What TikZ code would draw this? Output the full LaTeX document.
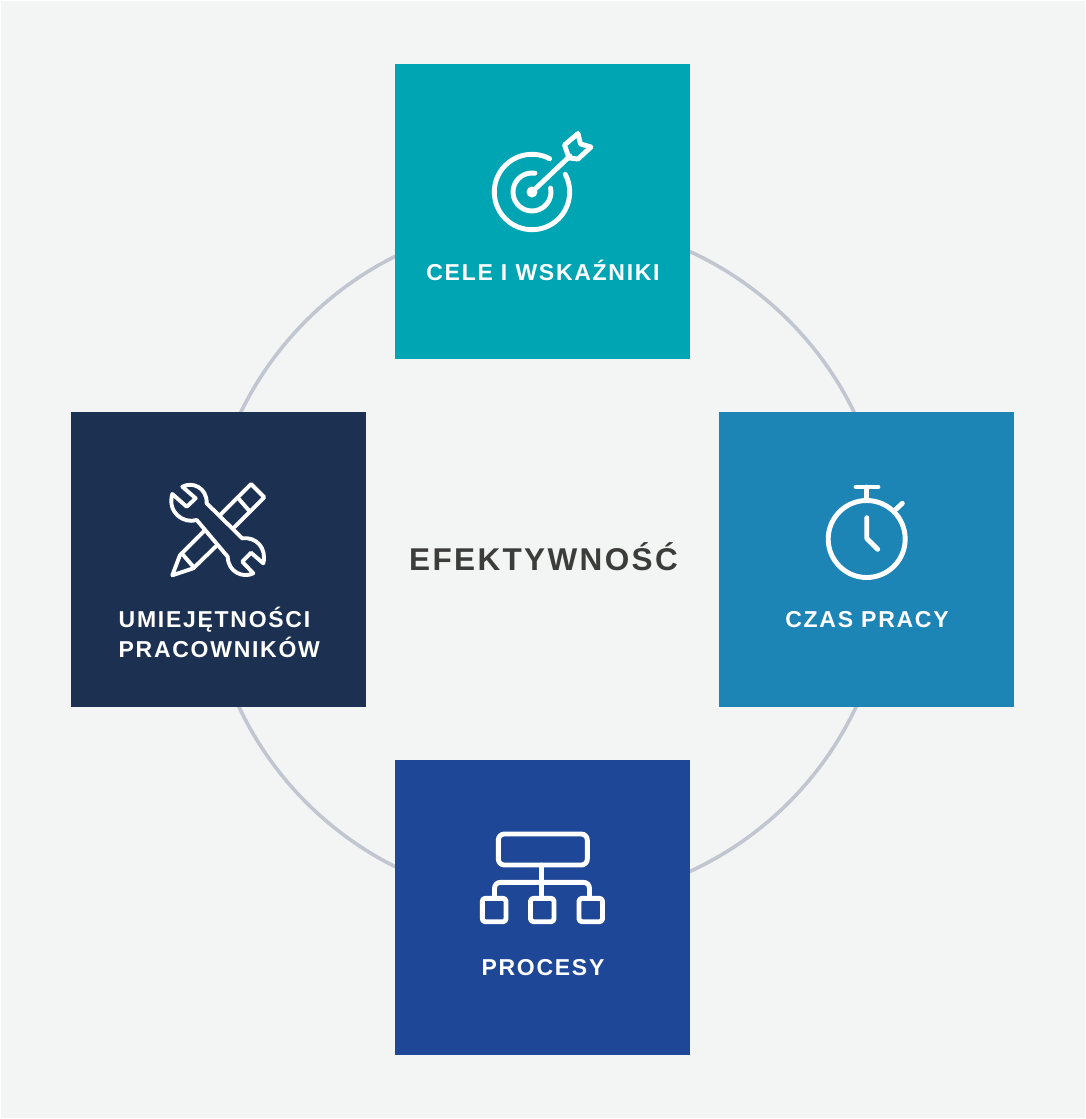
\documentclass[tikz,border=0pt]{standalone}
\usepackage{fontspec}
\setmainfont{Liberation Sans}
\newfontfamily\lblfont[LetterSpace=7.5]{Liberation Sans Bold}
\newfontfamily\ttlfont[LetterSpace=7.5]{Liberation Sans Bold}
\definecolor{bgc}{HTML}{F3F4F4}
\definecolor{ringc}{HTML}{C1C6D1}
\definecolor{tealc}{HTML}{00A5B3}
\definecolor{bluec}{HTML}{1D85B6}
\definecolor{navyc}{HTML}{1C3152}
\definecolor{royalc}{HTML}{1F4798}
\definecolor{titlec}{HTML}{3C3C3B}
\tikzset{
  tile/.style={minimum size=295pt,inner sep=0pt,outer sep=0pt,draw=none},
  lbl/.style={text=white,font=\fontsize{23}{30}\selectfont\lblfont,align=center,inner sep=0pt},
  icon/.style={draw=white,line width=4.9pt,line cap=round,line join=round},
  thinicon/.style={icon,line width=3.9pt}
}
\begin{document}
\begin{tikzpicture}[x=1pt,y=-1pt]
\useasboundingbox (0,0) rectangle (1086,1119);
\fill[white] (0,0) rectangle (1086,1119);
\fill[bgc] (0.5,0.5) rectangle (1084.5,1117.5);
\node[circle,draw=ringc,line width=3.6pt,minimum size=682pt,inner sep=0pt] (ring) at (547.5,561.5) {};
\node[tile,fill=tealc] (goals) at (542.5,211.5) {};
\node[tile,fill=bluec] (time) at (866.5,559.5) {};
\node[tile,fill=navyc] (skills) at (218,559.5) {};
\node[tile,fill=royalc] (proc) at (542.5,907.5) {};
\node[text=titlec,font=\fontsize{31.5}{36}\selectfont\ttlfont,inner sep=0pt] (title) at (543.5,556.5) {EFEKTYWNOŚĆ};
\node[lbl] (goalsl) at (543,270.5) {CELE I WSKAŹNIKI};
\node[lbl] (timel) at (867,620) {CZAS PRACY};
\node[lbl,align=left,anchor=west] (skillsl) at (118.5,632) {UMIEJĘTNOŚCI\\PRACOWNIKÓW};
\node[lbl] (procl) at (543,968) {PROCESY};
% target
\draw[icon] (532,192) ++(-62:37.7) arc[start angle=-62,end angle=-388,radius=37.7];
\draw[icon] (532,192) ++(-81:19) arc[start angle=-81,end angle=-372,radius=19];
\fill[white] (532,192) circle (5.5);
\draw[icon] (532,192) -- (570,156);
\draw[icon] (564.5,145) -- (578,133.5) -- (580.5,144) -- (591,147) -- (578,159) -- (569,158) -- cycle;
% pencil
\draw[thinicon] (204.3,530.7) -- (180,555) -- (172.3,575.3) -- (193.3,568.3) -- (217.3,545);
\draw[thinicon] (220,515) -- (251,484) -- (264.3,497.3) -- (234.3,527.3);
\draw[thinicon] (181.7,553.3) -- (193.3,566.7);
\draw[thinicon] (238.3,498.3) -- (250,511.7);
% wrench
\draw[thinicon] (182.3,486.7) .. controls (192,481.5) and (207,487) .. (206.7,503.3)
  -- (242.3,538.3) .. controls (256,536.5) and (267,548) .. (263.3,563.3)
  -- (251,552.7) -- (242.3,561.7) -- (253.3,573.3)
  .. controls (243,578.5) and (228,572) .. (227.7,556.7)
  -- (196.7,520) .. controls (184,524) and (167,513) .. (172.3,494)
  -- (186.7,506.7) -- (195.7,498.3) -- cycle;
% stopwatch
\draw[icon] (866.7,539) circle (38.5);
\draw[icon] (856,487) -- (878,487);
\draw[icon] (866.7,487) -- (866.7,500);
\draw[icon] (896,509.3) -- (902.3,503.3);
\draw[icon] (866.7,517.7) -- (866.7,538.3) -- (877.7,549.3);
% process
\draw[icon,rounded corners=6pt] (498.3,834) rectangle (587.3,865);
\draw[icon] (541.7,865) -- (541.7,897);
\draw[icon,rounded corners=6pt] (494.5,897) -- (494.5,882.3) -- (589.5,882.3) -- (589.5,897);
\draw[icon,rounded corners=3pt] (482.3,898.3) rectangle (506,921.7);
\draw[icon,rounded corners=3pt] (530.5,898.3) rectangle (554,921.7);
\draw[icon,rounded corners=3pt] (579,898.3) rectangle (602.5,921.7);
\end{tikzpicture}
\end{document}
